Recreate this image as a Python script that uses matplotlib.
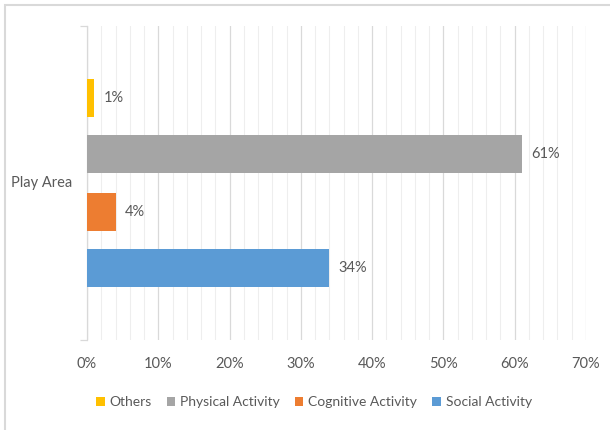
import numpy as np
import matplotlib
matplotlib.use("Agg")
import matplotlib.pyplot as plt
from matplotlib.patches import Rectangle
from matplotlib.ticker import MultipleLocator, PercentFormatter

category = "Play Area"
series = ["Social Activity", "Cognitive Activity", "Physical Activity", "Others"]
values = [34, 4, 61, 1]
colors = ["#5b9bd5", "#ed7d31", "#a5a5a5", "#ffc000"]
legend_order = ["Others", "Physical Activity", "Cognitive Activity", "Social Activity"]

plt.rcParams["font.family"] = ["Lato", "DejaVu Sans"]
text_col = "#595959"

fig = plt.figure(figsize=(6.1, 4.3), dpi=100)
ax = fig.add_axes([87 / 610, 1 - 340 / 430, (586 - 87) / 610, (340 - 26) / 430])

offsets = [-0.272, -0.0908, 0.0908, 0.272]
bar_h = 0.121
handles = {}
for name, v, c, off in zip(series, values, colors, offsets):
    b = ax.barh(off, v, height=bar_h, color=c, zorder=3, label=name)
    handles[name] = b
    ax.text(v + 1.3, off, f"{v}%", va="center", ha="left", fontsize=10.5, color=text_col)

ax.set_xlim(0, 70)
ax.set_ylim(-0.5, 0.5)
ax.xaxis.set_major_locator(MultipleLocator(10))
ax.xaxis.set_minor_locator(MultipleLocator(2))
ax.xaxis.set_major_formatter(PercentFormatter(decimals=0))
ax.grid(axis="x", which="major", color="#d9d9d9", lw=0.9, zorder=0)
ax.grid(axis="x", which="minor", color="#eeeeee", lw=0.8, zorder=0)
ax.tick_params(axis="x", which="both", length=0, labelsize=10.5, labelcolor=text_col, pad=12)

ax.set_yticks([-0.5, 0.5])
ax.set_yticklabels([])
ax.tick_params(axis="y", length=5, color="#d9d9d9", width=0.9)
ax.text(-0.03, 0.5, category, transform=ax.transAxes, ha="right", va="center",
        fontsize=10.5, color=text_col)

for s in ["top", "right", "bottom"]:
    ax.spines[s].set_visible(False)
ax.spines["left"].set_color("#d9d9d9")
ax.spines["left"].set_linewidth(0.9)

fig.legend([handles[n] for n in legend_order], legend_order, loc="center",
           bbox_to_anchor=(314 / 610, 1 - 402 / 430), ncol=4, frameon=False,
           fontsize=10, labelcolor=text_col, handlelength=0.6, handleheight=0.6,
           handletextpad=0.35, columnspacing=1.1)

fig.patches.append(Rectangle((5 / 610, -0.02), 1.0, 1 - 5 / 430 + 0.02,
                             transform=fig.transFigure, fill=False,
                             edgecolor="#d9d9d9", lw=1.5, clip_on=False))

fig.savefig("out.png", dpi=100)
